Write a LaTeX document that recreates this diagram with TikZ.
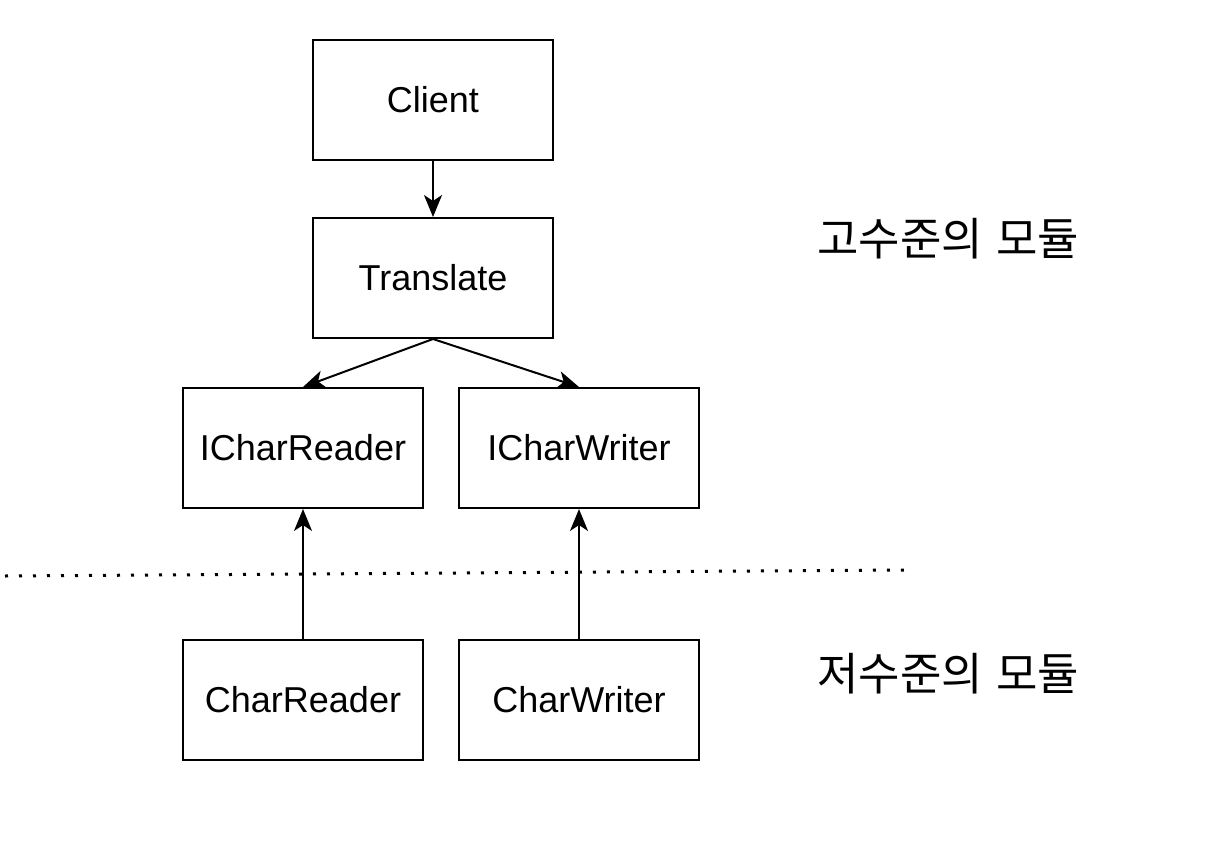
\documentclass[tikz,border=0pt]{standalone}
\usepackage{fontspec}
\setmainfont{Liberation Sans}
\newfontfamily\kr{Noto Sans CJK KR}
\usetikzlibrary{arrows.meta}
\begin{document}
\begin{tikzpicture}[x=1pt,y=-1pt,
  box/.style={draw,line width=2pt,minimum width=240pt,minimum height=120pt,inner sep=0pt,font=\fontsize{36}{43}\selectfont},
  conn/.style={line width=2pt,-{Stealth[length=22pt,width=18pt,inset=6pt]}},
  lbl/.style={font=\kr\fontsize{45}{52}\selectfont,inner sep=0pt}]
\useasboundingbox (0,0) rectangle (1226,856);
\node[box] (client) at (433,100) {Client};
\node[box] (trans) at (433,278) {Translate};
\node[box] (icr) at (303,448) {ICharReader};
\node[box] (icw) at (579,448) {ICharWriter};
\node[box] (cr) at (303,700) {CharReader};
\node[box] (cw) at (579,700) {CharWriter};
\coordinate (dl) at (5,576);
\coordinate (dr) at (905,570);
\draw[line width=3pt,dash pattern=on 3pt off 11pt] (dl) -- (dr);
\draw[conn] (client.south) -- (trans.north);
\draw[conn] (trans.south) -- (icr.north);
\draw[conn] (trans.south) -- (icw.north);
\draw[conn] (cr.north) -- (icr.south);
\draw[conn] (cw.north) -- (icw.south);
\node[lbl,anchor=west] (high) at (817,239) {고수준의\hspace{0.3em}모듈};
\node[lbl,anchor=west] (low) at (817,674) {저수준의\hspace{0.3em}모듈};
\end{tikzpicture}
\end{document}
